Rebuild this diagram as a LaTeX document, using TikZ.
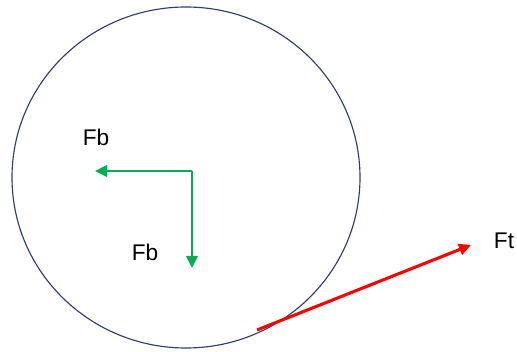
\documentclass[tikz,border=0pt]{standalone}
\usepackage{fontspec}
\setmainfont{Liberation Sans}
\usetikzlibrary{positioning,arrows.meta}
\definecolor{rimblue}{RGB}{47,60,115}
\definecolor{forcegreen}{RGB}{0,176,80}
\definecolor{forcered}{RGB}{255,0,0}
\tikzset{
rim/.style={
draw=rimblue,
line width=0.85pt
},
flabel/.style={
inner sep=0pt,
font=\fontsize{17}{20}\selectfont
},
garrow/.style={
-{Triangle[length=9pt,width=8.5pt]},
forcegreen,
line width=2.1pt
},
rarrow/.style={
-{Triangle[length=9pt,width=8.5pt]},
forcered,
line width=2.3pt
}
}

\begin{document}
\begin{tikzpicture}[x=0.75pt,y=-0.75pt]
\useasboundingbox (0,0) rectangle (517,352);
\draw[rim] (186,177.5) ellipse [x radius=174,y radius=170.5];

\coordinate (corner) at (192,171);
\coordinate (left) at (95,171);
\coordinate (down) at (192,268);
\coordinate (start) at (257,330);
\coordinate (end) at (471,245);

\node[flabel](fb1) at (96,137){Fb};
\node[flabel](fb2) at (145,252){Fb};
\node[flabel](ft) at (504,241){Ft};

\foreach \x/\y in {corner/left,corner/down}
\draw[garrow](\x)--(\y);
\draw[rarrow](start)--(end);
\end{tikzpicture}
\end{document}
